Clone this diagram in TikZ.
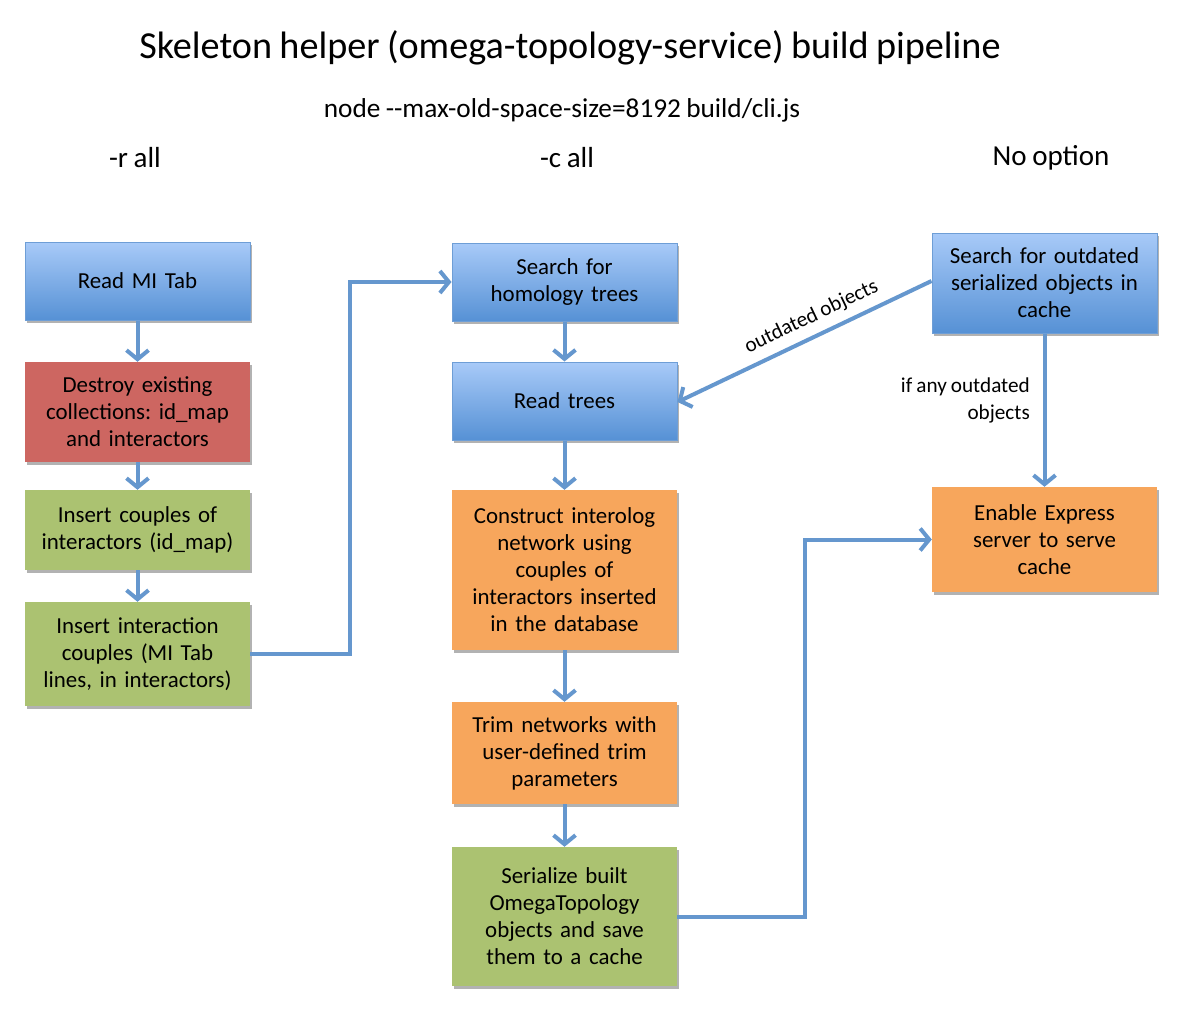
\documentclass[tikz,border=0pt]{standalone}
\usepackage{fontspec}
\setmainfont[WordSpace=0.85]{Carlito}
\usetikzlibrary{arrows.meta,shadows,positioning}
\definecolor{bluetop}{RGB}{168,202,248}
\definecolor{bluebot}{RGB}{86,145,213}
\definecolor{blueedge}{RGB}{110,158,214}
\definecolor{redfill}{RGB}{205,102,97}
\definecolor{greenfill}{RGB}{171,194,113}
\definecolor{orangefill}{RGB}{247,166,92}
\definecolor{arrowcol}{RGB}{101,151,206}
\tikzset{
  box/.style={rectangle, minimum width=225pt, text width=222pt, align=center,
    font=\fontsize{22.9}{27}\selectfont, inner sep=0pt,
    drop shadow={shadow xshift=2pt, shadow yshift=-3pt, opacity=0.3, fill=black}},
  bluebox/.style={box, top color=bluetop, bottom color=bluebot, draw=blueedge, line width=1pt},
  redbox/.style={box, fill=redfill},
  greenbox/.style={box, fill=greenfill},
  orangebox/.style={box, fill=orangefill},
  conn/.style={draw=arrowcol, line width=4pt, -{Straight Barb[length=9pt,width=22pt,line width=4pt]}},
  lbl/.style={font=\fontsize{21.2}{27}\selectfont, inner sep=0pt},
  hdr/.style={font=\fontsize{29}{34}\selectfont, inner sep=0pt}
}
\frenchspacing
\begin{document}
\begin{tikzpicture}[x=1pt,y=-1pt]
\useasboundingbox (0,0) rectangle (1189,1017);
\fill[white] (0,0) rectangle (1189,1017);
% titles
\node[font=\fontsize{38.2}{44}\selectfont, inner sep=0pt] (title) at (570,48) {Skeleton helper (omega-topology-service) build pipeline};
\node[font=\fontsize{27.3}{30}\selectfont, inner sep=0pt] (cmd) at (562,110) {node {-}{-}max-old-space-size=8192 build/cli.js};
\node[hdr] (hr) at (135,158) {-r all};
\node[hdr] (hc) at (567,158) {-c all};
\node[hdr] (hn) at (1051,158) {No option};
% left column
\node[bluebox, minimum height=78pt] (readmi) at (137.5,281) {Read MI Tab};
\node[redbox, minimum height=100pt] (destroy) at (137.5,412) {Destroy existing\\collections: id\_map\\and interactors};
\node[greenbox, minimum height=80pt] (couples) at (137.5,530) {Insert couples of\\interactors (id\_map)};
\node[greenbox, minimum height=104pt] (interact) at (137.5,654) {Insert interaction\\couples (MI Tab\\lines, in interactors)};
% middle column
\node[bluebox, minimum height=78pt] (homology) at (564.5,282) {Search for\\homology trees};
\node[bluebox, minimum height=78pt] (readtrees) at (564.5,401) {Read trees};
\node[orangebox, minimum height=160pt] (construct) at (564.5,570) {Construct interolog\\network using\\couples of\\interactors inserted\\in the database};
\node[orangebox, minimum height=102pt] (trim) at (564.5,753) {Trim networks with\\user-defined trim\\parameters};
\node[greenbox, minimum height=139pt] (serialize) at (564.5,916.5) {Serialize built\\OmegaTopology\\objects and save\\them to a cache};
% right column
\node[bluebox, minimum height=100pt] (outdated) at (1044.5,283) {Search for outdated\\serialized objects in\\cache};
\node[orangebox, minimum height=105pt] (express) at (1044.5,539.5) {Enable Express\\server to serve\\cache};
% connectors
\draw[conn] (readmi) -- (destroy);
\draw[conn] (destroy) -- (couples);
\draw[conn] (couples) -- (interact);
\draw[conn] (interact.east) -- ++(100,0) |- (homology.west);
\draw[conn] (homology) -- (readtrees);
\draw[conn] (readtrees) -- (construct);
\draw[conn] (construct) -- (trim);
\draw[conn] (trim) -- (serialize);
\draw[conn] (serialize.east) -- ++(128,0) |- (express.west);
\coordinate (oa) at ([yshift=2pt]outdated.west);
\coordinate (ob) at ([yshift=-1pt]readtrees.east);
\draw[conn] (oa) -- node[lbl, sloped, above=8pt, pos=0.44] (lblout) {outdated objects} (ob);
\draw[conn] (outdated) -- (express);
\node[lbl, align=right, anchor=north east] (ifany) at (1030,378) {if any outdated\\objects};
\end{tikzpicture}
\end{document}
